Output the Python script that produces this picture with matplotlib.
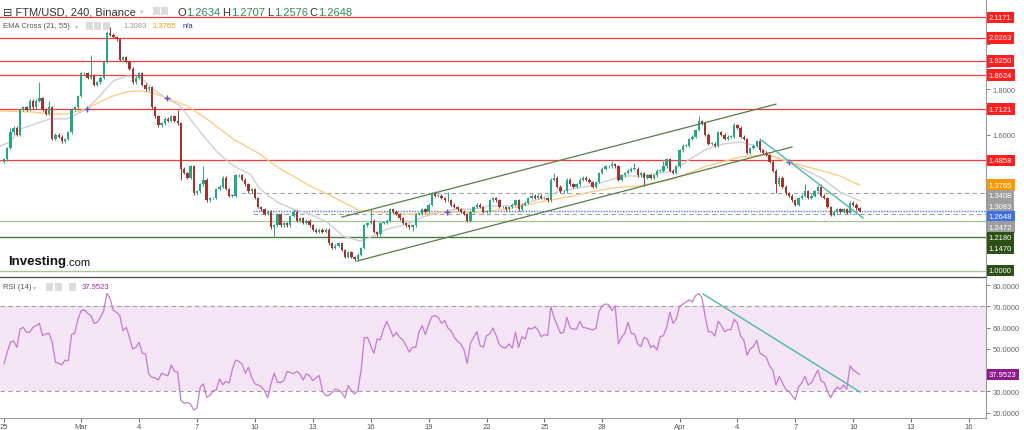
import numpy as np
import matplotlib.pyplot as plt
from matplotlib.patches import Rectangle

plt.rcParams['font.family'] = ['Liberation Sans', 'DejaVu Sans']

# FTM/USD 4h candles, x axis = days since Feb 25 00:00
closes = [
    1.49, 1.54, 1.61, 1.63, 1.60, 1.71, 1.72, 1.71, 1.75, 1.72,
    1.75, 1.76, 1.71, 1.69, 1.72, 1.58, 1.60, 1.59, 1.57, 1.58,
    1.61, 1.71, 1.72, 1.77, 1.87, 1.87, 1.85, 1.86, 1.82, 1.83,
    1.85, 1.92, 2.05, 2.04, 2.03, 2.02, 1.93, 1.94, 1.92, 1.89,
    1.83, 1.85, 1.87, 1.82, 1.80, 1.81, 1.72, 1.68, 1.64, 1.65,
    1.67, 1.66, 1.68, 1.66, 1.65, 1.45, 1.43, 1.41, 1.46, 1.34,
    1.35, 1.38, 1.40, 1.31, 1.32, 1.32, 1.36, 1.37, 1.41, 1.36,
    1.33, 1.33, 1.42, 1.42, 1.40, 1.38, 1.35, 1.36, 1.32, 1.28,
    1.27, 1.25, 1.26, 1.19, 1.20, 1.25, 1.20, 1.21, 1.20, 1.24,
    1.26, 1.22, 1.23, 1.21, 1.22, 1.20, 1.18, 1.17, 1.18, 1.17,
    1.18, 1.12, 1.10, 1.11, 1.12, 1.09, 1.06, 1.08, 1.06, 1.05,
    1.07, 1.10, 1.20, 1.21, 1.22, 1.17, 1.16, 1.21, 1.21, 1.22,
    1.27, 1.26, 1.25, 1.23, 1.21, 1.20, 1.19, 1.20, 1.25, 1.25,
    1.27, 1.26, 1.29, 1.34, 1.33, 1.33, 1.32, 1.31, 1.31, 1.29,
    1.28, 1.27, 1.26, 1.25, 1.22, 1.26, 1.28, 1.29, 1.28, 1.26,
    1.26, 1.31, 1.32, 1.31, 1.28, 1.28, 1.27, 1.28, 1.29, 1.31,
    1.27, 1.29, 1.30, 1.32, 1.33, 1.32, 1.33, 1.32, 1.32, 1.31,
    1.40, 1.41, 1.37, 1.35, 1.35, 1.40, 1.38, 1.37, 1.38, 1.40,
    1.41, 1.40, 1.39, 1.37, 1.39, 1.43, 1.45, 1.46, 1.46, 1.47,
    1.46, 1.40, 1.42, 1.43, 1.44, 1.45, 1.45, 1.42, 1.43, 1.41,
    1.42, 1.41, 1.42, 1.44, 1.44, 1.46, 1.49, 1.44, 1.43, 1.46,
    1.53, 1.55, 1.55, 1.58, 1.59, 1.62, 1.66, 1.65, 1.60, 1.56,
    1.56, 1.55, 1.61, 1.60, 1.58, 1.59, 1.59, 1.64, 1.63, 1.59,
    1.58, 1.52, 1.54, 1.55, 1.57, 1.53, 1.52, 1.51, 1.48, 1.44,
    1.38, 1.41, 1.37, 1.34, 1.33, 1.31, 1.29, 1.32, 1.33, 1.35,
    1.32, 1.33, 1.35, 1.37, 1.33, 1.32, 1.28, 1.245, 1.26, 1.27,
    1.26, 1.27, 1.255, 1.30, 1.29, 1.275, 1.2648,
]
first_open = 1.48
long_highs = {2: 1.63, 11: 1.83, 14: 1.75, 27: 1.95, 33: 2.075, 54: 1.71,
              62: 1.46, 90: 1.27, 114: 1.27, 134: 1.35, 138: 1.345, 171: 1.43,
              189: 1.485, 196: 1.475, 205: 1.485, 216: 1.68, 227: 1.65,
              249: 1.38, 254: 1.38}
long_lows = {55: 1.40, 84: 1.15, 110: 1.044, 127: 1.176, 199: 1.374,
             240: 1.34, 246: 1.283, 257: 1.24}
wick = 0.006

rsi = [
    42.9, 48.4, 53.1, 53.8, 50.7, 59.3, 60.1, 57.8, 57.8, 60.1,
    60.9, 62.0, 56.2, 57.0, 57.3, 53.1, 43.6, 43.2, 42.5, 44.7,
    44.4, 56.7, 57.3, 64.0, 68.0, 68.3, 66.7, 65.6, 62.0, 62.5,
    64.8, 68.0, 76.1, 73.5, 68.0, 67.2, 65.6, 58.5, 60.1, 55.4,
    49.9, 50.7, 53.1, 47.9, 47.6, 38.2, 36.6, 36.3, 35.3, 38.5,
    37.8, 37.4, 42.4, 39.4, 38.9, 25.6, 24.4, 24.8, 24.0, 21.2,
    22.2, 31.9, 33.5, 27.2, 28.0, 30.3, 30.6, 35.8, 33.1, 34.7,
    33.9, 40.5, 44.7, 44.1, 42.9, 38.5, 41.3, 36.6, 33.5, 33.0,
    32.2, 30.3, 26.9, 33.5, 38.5, 34.2, 34.2, 35.0, 39.3, 38.9,
    38.2, 39.4, 38.2, 35.3, 38.2, 37.4, 35.0, 36.3, 37.4, 30.0,
    28.0,
    28.0, 29.5, 31.1, 30.6, 29.5, 26.9, 32.7, 30.3, 28.7, 30.3,
    39.7, 55.1, 55.4, 51.5, 47.9, 54.6, 54.2, 59.3, 62.9, 59.3,
    55.7, 57.8, 55.4, 54.2, 51.5, 48.4, 50.7, 50.7, 57.8, 60.9,
    56.7, 61.4, 65.1, 65.6, 64.8, 62.0, 63.3, 59.8, 58.5, 55.4,
    53.5, 52.3, 49.5, 43.2, 52.6, 55.4, 58.1, 51.5, 50.7, 56.2,
    57.0, 59.8, 56.2, 52.0, 50.7, 50.4, 52.3, 50.4, 57.8, 50.7,
    55.7, 54.6, 59.8, 59.3, 60.4, 58.9, 55.7, 56.7, 56.2, 69.8,
    64.8, 60.9, 57.3, 57.8, 64.8, 59.8, 59.3, 59.3, 62.9, 60.1,
    59.8, 59.3, 58.9, 59.6, 67.6, 70.3, 71.1, 70.8, 68.0, 70.3,
    52.3, 55.4, 57.3, 62.5, 57.3, 57.0, 52.3, 51.0, 55.4, 54.6,
    50.7, 51.5, 49.5, 55.7, 56.2, 60.1, 67.2,
    62, 64, 70, 71, 72, 73, 72, 75, 76, 74,
    65, 58, 58, 56, 63, 61, 58, 59, 59, 64,
    62, 56, 54, 47, 50, 51, 54, 48, 47, 46,
    42, 40, 33, 37, 34, 31, 30, 28, 26, 32,
    34, 37, 33, 34, 37, 40, 35, 34, 30, 27,
    30, 32, 31, 33, 31, 42, 40, 39, 37.95,
]

ema21_days = [-0.21, 0.31, 0.83, 2.38, 3.26, 4.30, 4.97, 5.65, 6.37, 7.05,
              7.72, 8.45, 9.12, 10.16, 11.04, 11.87, 12.75, 13.26, 14.15, 14.97,
              15.85, 16.74, 17.56, 18.45, 19.12, 19.84, 20.52, 20.88, 21.71, 22.59,
              23.47, 24.30, 25.18, 26.06, 26.89, 27.77, 28.65, 29.48, 30.36, 31.24,
              32.07, 32.95, 34.66, 35.54, 36.42, 37.25, 38.13, 39.02, 39.84, 40.73,
              41.61, 42.44, 43.32, 44.33]
ema21_vals = [1.549, 1.567, 1.624, 1.669, 1.669, 1.713, 1.770, 1.836, 1.858, 1.854,
              1.801, 1.757, 1.727, 1.612, 1.523, 1.462, 1.426, 1.360, 1.302, 1.271,
              1.249, 1.214, 1.152, 1.130, 1.152, 1.183, 1.196, 1.205, 1.236, 1.258,
              1.271, 1.271, 1.285, 1.285, 1.293, 1.316, 1.346, 1.360, 1.373, 1.395,
              1.417, 1.417, 1.439, 1.492, 1.536, 1.558, 1.567, 1.549, 1.505, 1.479,
              1.439, 1.404, 1.346, 1.308]
ema55_days = [-0.21, 1.50, 2.38, 3.26, 4.30, 4.97, 5.65, 6.37, 7.05, 7.72,
              8.45, 9.48, 10.52, 11.87, 13.26, 14.15, 14.97, 15.85, 16.74, 17.56,
              18.45, 19.33, 20.52, 21.71, 22.95, 24.30, 25.18, 26.06, 26.89, 27.77,
              28.65, 29.48, 30.36, 31.24, 32.07, 32.95, 34.66, 36.42, 38.13, 39.53,
              40.73, 41.61, 42.44, 43.32, 44.33]
ema55_vals = [1.704, 1.699, 1.691, 1.691, 1.713, 1.744, 1.770, 1.788, 1.792, 1.783,
              1.761, 1.726, 1.668, 1.580, 1.514, 1.457, 1.417, 1.373, 1.338, 1.302,
              1.263, 1.258, 1.249, 1.249, 1.258, 1.258, 1.263, 1.271, 1.285, 1.302,
              1.316, 1.329, 1.346, 1.360, 1.369, 1.373, 1.404, 1.461, 1.501, 1.510,
              1.479, 1.457, 1.439, 1.417, 1.3765]

cross_days = [4.30, 8.45, 22.95, 40.67]
cross_prices = [1.713, 1.761, 1.258, 1.479]

red_levels = [2.1171, 2.0263, 1.9250, 1.8624, 1.7121, 1.4858]
dashed_levels = [1.3408, 1.2472]
dashed_from = [12.3, 12.9]          # day where the dashed rays start
last_price = 1.2648
last_from = 12.9
green_levels = [1.2180, 1.1470, 1.0000]
ema21_last, ema55_last = 1.3083, 1.3765
rsi_last = 37.9523

upper_days, upper_prices = [17.51, 40.0], [1.236, 1.734]
lower_days, lower_prices = [18.29, 40.83], [1.042, 1.545]
trend_days, trend_prices = [39.17, 44.51], [1.580, 1.232]
rsi_trend_days, rsi_trend_vals = [36.22, 44.35], [75.8, 29.7]

price_ticks = [1.6, 1.8]
rsi_ticks = [20, 30, 50, 60, 70, 80]
tick_days = [0, 4, 7, 10, 13, 16, 19, 22, 25, 28, 31, 35, 38, 41, 44, 47, 50]
tick_labels = ['25', 'Mar', '4', '7', '10', '13', '16', '19', '22', '25', '28',
               'Apr', '4', '7', '10', '13', '16']

# colours
UP, DOWN = '#26a685', '#a3332d'
RED = '#f23c3c'
DKGREEN = '#2d5016'

W, H = 1024, 431
XMIN, XMAX = -0.207, 50.88
fig = plt.figure(figsize=(W / 100, H / 100), dpi=100)


def pane(top, bottom):
    return [0, 1 - bottom / H, 986 / W, (bottom - top) / H]


ax = fig.add_axes(pane(0, 278))
ax2 = fig.add_axes(pane(280, 419), sharex=ax)

# ---- candles
c = np.array(closes)
o = np.r_[first_open, c[:-1]]
t = np.arange(len(c)) / 6
hi = np.maximum(o, c) + wick
lo = np.minimum(o, c) - wick
for k, v in long_highs.items():
    hi[k] = v
for k, v in long_lows.items():
    lo[k] = v
cols = np.where(c >= o, UP, DOWN)
ax.vlines(t, lo, hi, colors=cols, lw=0.7, zorder=4)
body = np.maximum(np.abs(c - o), 0.002)
ax.bar(t, body, bottom=np.minimum(o, c), width=0.12, color=cols, lw=0, zorder=5)

# ---- levels
for v in red_levels:
    ax.axhline(v, color=RED, lw=0.9, zorder=1)
for v, x0 in zip(dashed_levels, dashed_from):
    ax.hlines(v, x0, XMAX, color='#a0a0a0', lw=0.8, ls=(0, (4, 3)), zorder=1)
ax.hlines(last_price, last_from, XMAX, color='#4a78e6', lw=1.0, ls=(0, (1, 1)), zorder=1)
for v, col in zip(green_levels, ['#a9c49a', '#4c7a3c', '#a9c49a']):
    ax.axhline(v, color=col, lw=1.0, zorder=1)

ax.plot(ema21_days, ema21_vals, color='#cfcfcf', lw=1.0, zorder=2)
ax.plot(ema55_days, ema55_vals, color='#ffcc88', lw=1.0, zorder=2)
ax.plot(cross_days, cross_prices, '+', color='#5b4fc8', ms=4, mew=1.0, zorder=6)

ax.plot(upper_days, upper_prices, color='#567d46', lw=0.9, zorder=6)
ax.plot(lower_days, lower_prices, color='#567d46', lw=0.9, zorder=6)
ax.plot(trend_days, trend_prices, color='#4db6ac', lw=1.0, zorder=6)

ax.set_xlim(XMIN, XMAX)
ax.set_ylim(0.9715, 2.1978)
ax.yaxis.tick_right()
ax.set_yticks(np.arange(1.0, 2.15, 0.1), minor=True)
ax.set_yticks(price_ticks)
ax.set_yticklabels([f'{v:.4f}' for v in price_ticks])
ax.tick_params(axis='y', which='both', labelsize=5.5, colors='#666666', length=3, width=0.6, pad=2)
ax.tick_params(axis='x', which='both', bottom=False, labelbottom=False)
for s in ['top', 'left']:
    ax.spines[s].set_visible(False)
ax.spines['right'].set_color('#999999')
ax.spines['right'].set_linewidth(0.8)
ax.spines['bottom'].set_color('#555555')
ax.spines['bottom'].set_linewidth(1.0)


def price_labels(axis, items, gap_px):
    y0, y1 = axis.get_ylim()
    h_px = axis.get_position().height * H
    gap = gap_px * (y1 - y0) / h_px
    prev = None
    for val, col in sorted(items, key=lambda z: -z[0]):
        pos = val if prev is None else min(val, prev - gap)
        prev = pos
        axis.text(1.003, pos, f'{val:.4f}', transform=axis.get_yaxis_transform(),
                  ha='left', va='center', fontsize=5.5, color='white', zorder=8,
                  bbox=dict(boxstyle='square,pad=0.3', fc=col, ec='none'), clip_on=False)


items = [(v, '#ff1f1f') for v in red_levels]
items += [(ema55_last, '#ff9800'), (dashed_levels[0], '#9e9e9e'), (ema21_last, '#9e9e9e'),
          (last_price, '#3f6fe0'), (dashed_levels[1], '#9e9e9e')]
items += [(v, DKGREEN) for v in green_levels]
price_labels(ax, items, 10.5)

# ---- RSI pane
ax2.axhspan(30, 70, color='#f3e5f3', lw=0, zorder=0)
for v in (30, 70):
    ax2.axhline(v, color='#a0a0a0', lw=0.8, ls=(0, (4, 3)), zorder=1)
ax2.plot(t, rsi, color='#c678d2', lw=0.9, zorder=3)
ax2.plot(rsi_trend_days, rsi_trend_vals, color='#4db6ac', lw=1.0, zorder=4)
ax2.set_ylim(17.44, 82.85)
ax2.yaxis.tick_right()
ax2.set_yticks(np.arange(20, 81, 10), minor=True)
ax2.set_yticks(rsi_ticks)
ax2.set_yticklabels([f'{v:.4f}' for v in rsi_ticks])
ax2.tick_params(axis='y', which='both', labelsize=5.5, colors='#666666', length=3, width=0.6, pad=2)
ax2.set_xticks(tick_days)
ax2.set_xticklabels(tick_labels)
ax2.tick_params(axis='x', labelsize=5.5, colors='#555555', length=3, width=0.6, pad=0.5)
for s in ['top', 'left']:
    ax2.spines[s].set_visible(False)
for s in ['right', 'bottom']:
    ax2.spines[s].set_color('#999999')
    ax2.spines[s].set_linewidth(0.8)
ax2.text(1.003, rsi_last, f'{rsi_last:.4f}', transform=ax2.get_yaxis_transform(),
         ha='left', va='center', fontsize=5.5, color='white', zorder=8,
         bbox=dict(boxstyle='square,pad=0.3', fc='#8e1b8e', ec='none'), clip_on=False)


# ---- header texts
def ftext(x, y, s, **kw):
    fig.text(x / W, 1 - y / H, s, va='center', ha='left', **kw)


def icon(x, y, w=7, h=8):
    fig.patches.append(Rectangle((x / W, 1 - (y + h) / H), w / W, h / H,
                                 transform=fig.transFigure, fc='#dcdcdc', ec='none'))


ftext(3, 12.5, '⊟ FTM/USD, 240, Binance', fontsize=8, color='#333333')
ftext(140, 12.5, '▾', fontsize=5, color='#bbbbbb')
icon(153, 8)
icon(161, 8)
ftext(177, 12.5, 'O', fontsize=8, color='#333333')
ftext(186, 12.5, '1.2634', fontsize=8, color='#2e8b57')
ftext(222, 12.5, 'H', fontsize=8, color='#333333')
ftext(231, 12.5, '1.2707', fontsize=8, color='#2e8b57')
ftext(267, 12.5, 'L', fontsize=8, color='#333333')
ftext(274, 12.5, '1.2576', fontsize=8, color='#2e8b57')
ftext(309, 12.5, 'C', fontsize=8, color='#333333')
ftext(318, 12.5, '1.2648', fontsize=8, color='#2e8b57')

ftext(3, 27, 'EMA Cross (21, 55)', fontsize=5.5, color='#555555')
ftext(75, 27, '▾', fontsize=4.5, color='#bbbbbb')
icon(86, 23)
icon(94, 23)
icon(103, 23)
ftext(123, 27, '1.3083', fontsize=5.5, color='#999999')
ftext(152, 27, '1.3765', fontsize=5.5, color='#ff9800')
ftext(183, 27, 'n/a', fontsize=5.5, color='#2a2a8c')

ftext(3, 288, 'RSI (14)', fontsize=5.5, color='#555555')
ftext(33, 288, '▾', fontsize=4.5, color='#bbbbbb')
icon(46, 284)
icon(55, 284)
icon(69, 284)
ftext(82, 288, '37.9523', fontsize=5.5, color='#9c27b0')

ftext(8, 262, 'Investing', fontsize=9.5, color='#111111', fontweight='bold')
ftext(66, 263, '.com', fontsize=8, color='#111111')

fig.savefig('out.png', dpi=100)
